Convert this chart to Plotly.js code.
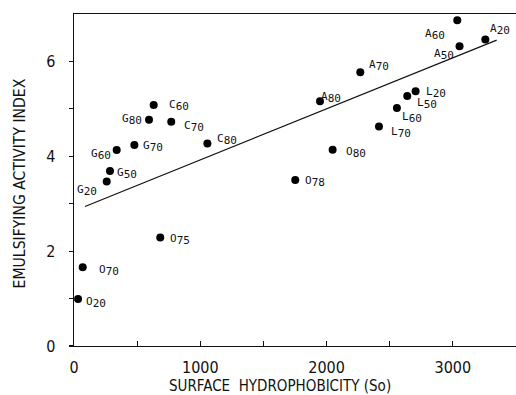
<!DOCTYPE html>
<html>
<head>
<meta charset="utf-8">
<script src="https://cdn.plot.ly/plotly-3.0.1.min.js"></script>
<style>html,body{margin:0;padding:0;background:#fff;}#chart{width:516px;height:395px;}</style>
</head>
<body>
<div id="chart"></div>
<script>
// Data
const labelLetters = ["O","O","O","G","G","G","G","G","C","C","C","A","A","O","O","L","L","L","L","A","A","A"];
const labelNums    = ["20","70","75","20","50","60","70","80","60","70","80","80","70","78","80","70","60","50","20","60","50","20"];
const hydrophobicity = [32, 69, 683, 259, 285, 338, 478, 594, 631, 770, 1056, 1948, 2267, 1752, 2048, 2415, 2557, 2639, 2705, 3035, 3053, 3257];
const emulsifyingIndex = [0.99, 1.66, 2.29, 3.47, 3.69, 4.13, 4.24, 4.77, 5.08, 4.73, 4.27, 5.16, 5.77, 3.50, 4.14, 4.63, 5.02, 5.27, 5.37, 6.87, 6.32, 6.46];
const fitLineX = [87, 3347];
const fitLineY = [2.94, 6.45];
const xTickVals = [0, 1000, 2000, 3000];
const xTickText = ["0", "1000", "2000", "3000"];
const yTickVals = [0, 2, 4, 6];
const yTickText = ["0", "2", "4", "6"];

// Label placement (pixel offsets from point centre), layout only
const labelPlacement = [
  [6,-3,"left"],[14,-3,"left"],[8,-2,"left"],[-8,-9,"right"],[5,-3,"left"],[-4,-4,"right"],[7,-2,"left"],[-5,0,"right"],
  [13,0,"left"],[11,-5,"left"],[8,4,"left"],[-1,4,"left"],[7,7,"left"],[8,-1,"left"],[11,-3,"left"],[10,-6,"left"],
  [3,-10,"left"],[8,-7,"left"],[8,-1,"left"],[-10,-14,"right"],[-4,-8,"right"],[3,10,"left"]
];

const FONT_T = '"DejaVu Sans", sans-serif';
const FONT_L = '"DejaVu Sans Mono", "Liberation Mono", monospace';
const cond = s => '<span style="font-stretch:condensed">' + s + '</span>';

const annotations = labelLetters.map((l, i) => ({
  x: hydrophobicity[i], y: emulsifyingIndex[i], xref: 'x', yref: 'y',
  text: l + '<sub><span style="font-size:11px">' + labelNums[i] + '</span></sub>',
  showarrow: false, xanchor: labelPlacement[i][2], yanchor: 'middle',
  xshift: labelPlacement[i][0], yshift: labelPlacement[i][1],
  font: {family: FONT_L, size: 11, color: '#111'}
}));
annotations.push({
  xref: 'paper', yref: 'paper', x: -0.122, y: 0.49, textangle: -90,
  text: cond('EMULSIFYING ACTIVITY INDEX'), showarrow: false,
  font: {family: FONT_T, size: 15.6, color: '#111'}, xanchor: 'center', yanchor: 'middle'
});
annotations.push({
  xref: 'paper', yref: 'paper', x: 0.466, y: -0.121,
  text: cond('SURFACE&nbsp;&nbsp;HYDROPHOBICITY (So)'), showarrow: false, borderpad: 0,
  font: {family: FONT_T, size: 15, color: '#111'}, xanchor: 'center', yanchor: 'middle'
});

const traces = [
  {x: fitLineX, y: fitLineY, mode: 'lines', line: {color: '#111', width: 1.2}, hoverinfo: 'skip', showlegend: false},
  {x: hydrophobicity, y: emulsifyingIndex, mode: 'markers', marker: {color: '#000', size: 8}, showlegend: false}
];

const layout = {
  width: 516, height: 395,
  margin: {l: 74, r: 0, t: 14, b: 49},
  paper_bgcolor: '#fff', plot_bgcolor: '#fff',
  showlegend: false,
  xaxis: {
    range: [0, 3500], showgrid: false, zeroline: false,
    showline: true, linecolor: '#111', linewidth: 1.3, mirror: true,
    tickvals: xTickVals, ticktext: xTickText.map(cond),
    ticks: 'inside', ticklen: 5, tickcolor: '#111', tickwidth: 1.2,
    minor: {tickvals: [500, 1500, 2500, 3500], ticks: 'inside', ticklen: 5, tickcolor: '#111', tickwidth: 1.2},
    tickfont: {family: FONT_T, size: 16, color: '#111'},
    ticklabelstandoff: 6
  },
  yaxis: {
    range: [0, 7], showgrid: false, zeroline: false,
    showline: true, linecolor: '#111', linewidth: 1.3,
    tickvals: yTickVals, ticktext: yTickText.map(cond),
    ticks: 'outside', ticklen: 4, tickcolor: '#111', tickwidth: 1.2,
    minor: {tickvals: [1, 3, 5], ticks: 'outside', ticklen: 4, tickcolor: '#111', tickwidth: 1.2},
    tickfont: {family: FONT_T, size: 16, color: '#111'},
    ticklabelstandoff: 10
  },
  annotations: annotations
};

Plotly.newPlot('chart', traces, layout, {displayModeBar: false, staticPlot: true});
</script>
</body>
</html>
